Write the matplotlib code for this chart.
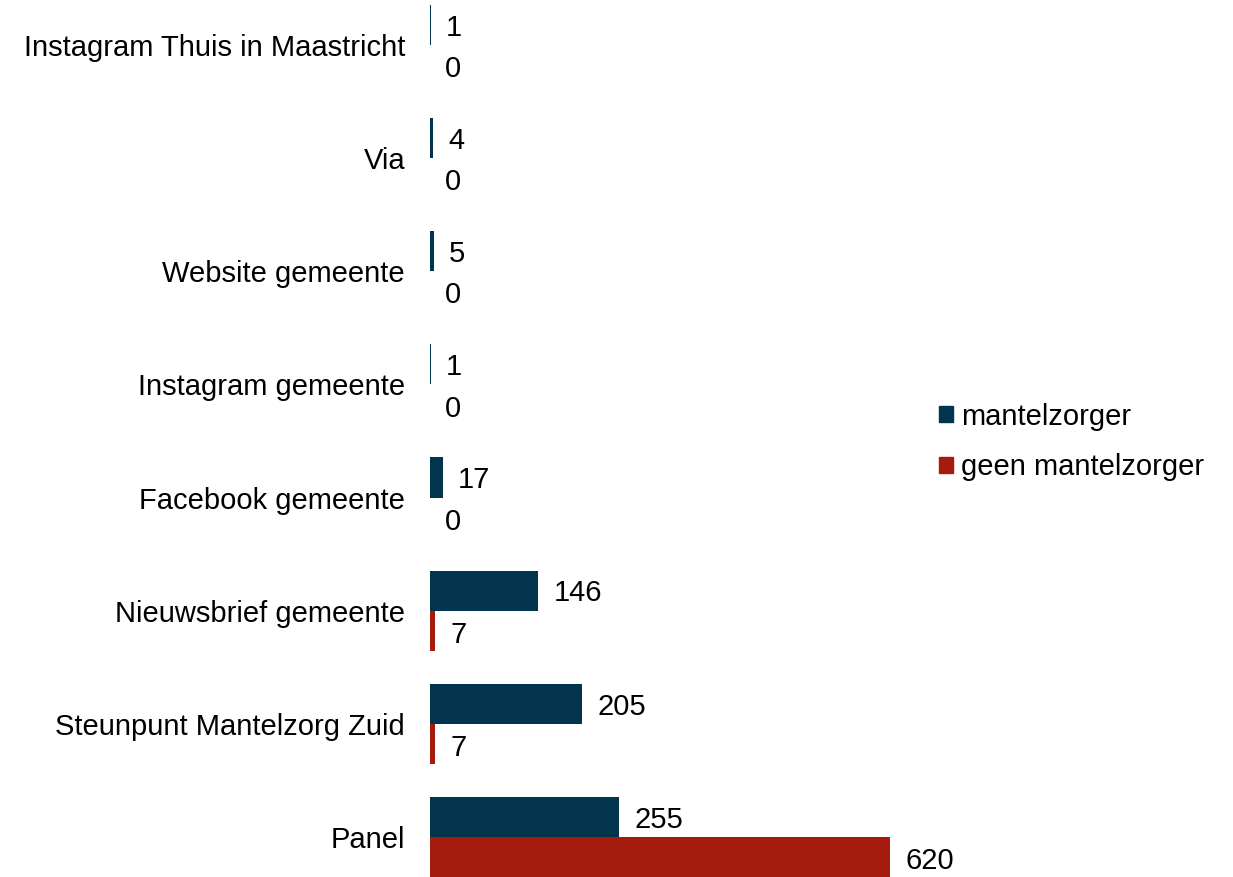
import numpy as np
import matplotlib.pyplot as plt
from matplotlib.patches import Patch

plt.rcParams['font.family'] = ['Liberation Sans', 'DejaVu Sans']

categories = ['Panel', 'Steunpunt Mantelzorg Zuid', 'Nieuwsbrief gemeente',
              'Facebook gemeente', 'Instagram gemeente', 'Website gemeente',
              'Via', 'Instagram Thuis in Maastricht']
mantelzorger = [255, 205, 146, 17, 1, 5, 4, 1]
geen_mantelzorger = [620, 7, 7, 0, 0, 0, 0, 0]

navy = '#02344D'
red = '#A51C0E'
fs = 21

fig = plt.figure(figsize=(12.33, 8.77), dpi=100)
ax = fig.add_axes([430 / 1233, 0, (890 - 430) / 1233, 1])

y = np.arange(len(categories))
h = 0.354
ax.barh(y + h / 2, mantelzorger, height=h, color=navy)
ax.barh(y - h / 2, geen_mantelzorger, height=h, color=red)

# value labels next to bars
for i in range(len(categories)):
    ax.annotate(str(mantelzorger[i]), (mantelzorger[i], y[i] + h / 2),
                xytext=(11, -2), textcoords='offset points', va='center',
                ha='left', fontsize=fs, annotation_clip=False)
    ax.annotate(str(geen_mantelzorger[i]), (geen_mantelzorger[i], y[i] - h / 2),
                xytext=(11, -3), textcoords='offset points', va='center',
                ha='left', fontsize=fs, annotation_clip=False)

ax.set_xlim(0, 620)
ax.set_ylim(-0.354, 7.397)
ax.set_yticks(y)
ax.set_yticklabels(categories, fontsize=fs)
ax.tick_params(axis='y', length=0, pad=18)
ax.set_xticks([])
for s in ax.spines.values():
    s.set_visible(False)

handles = [Patch(color=navy, label='mantelzorger'),
           Patch(color=red, label='geen mantelzorger')]
fig.legend(handles=handles, loc='center left', bbox_to_anchor=(913 / 1233, 1 - 442 / 877),
           frameon=False, fontsize=fs, handlelength=0.48, handleheight=0.48,
           handletextpad=0.28, labelspacing=0.78)

fig.savefig('out.png', dpi=100)
